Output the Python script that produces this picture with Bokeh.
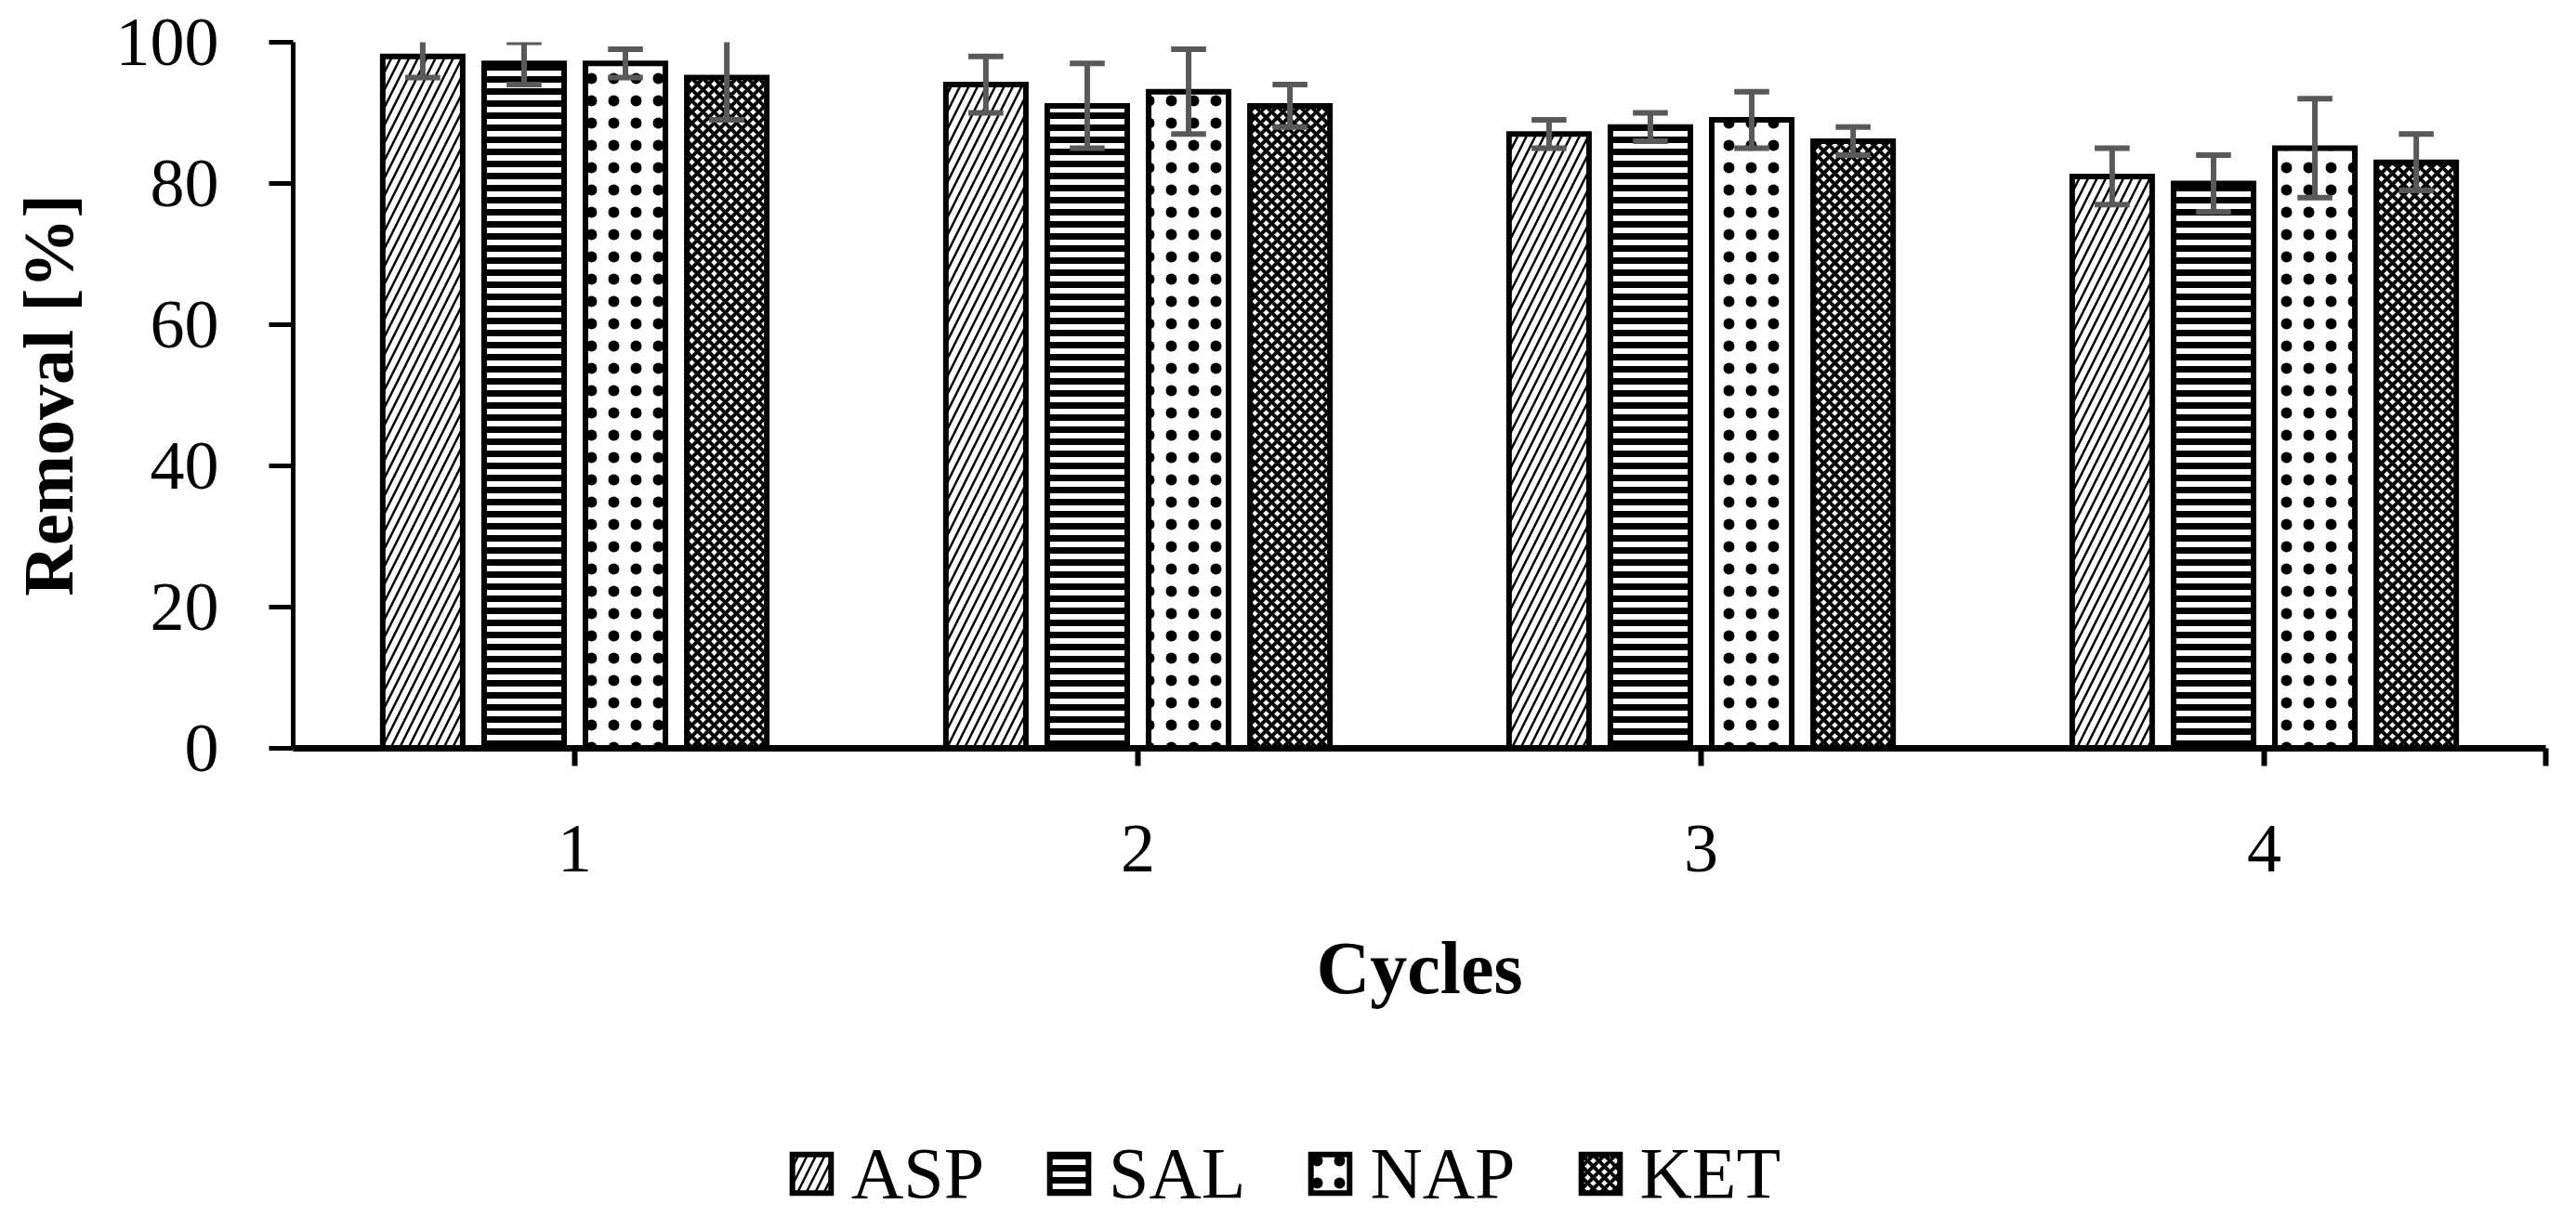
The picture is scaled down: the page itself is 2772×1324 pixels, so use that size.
from bokeh.plotting import figure
from bokeh.models import Range1d, FixedTicker, Legend, LegendItem, ColumnDataSource
from bokeh.layouts import column
from bokeh.embed import file_html
from bokeh.resources import INLINE

# ---- data ----
cycles = [1, 2, 3, 4]
series = ["ASP", "SAL", "NAP", "KET"]
asp = [98, 94, 87, 81]
sal = [97, 91, 88, 80]
nap = [97, 93, 89, 85]
ket = [95, 91, 86, 83]
asp_err = [3, 4, 2, 4]
sal_err = [3, 6, 2, 4]
nap_err = [2, 6, 4, 7]
ket_err = [6, 3, 2, 4]
y_ticks = [0, 20, 40, 60, 80, 100]
x_ticks = [1, 2, 3, 4]

values = {"ASP": asp, "SAL": sal, "NAP": nap, "KET": ket}
errors = {"ASP": asp_err, "SAL": sal_err, "NAP": nap_err, "KET": ket_err}

offsets = {"ASP": -0.27, "SAL": -0.09, "NAP": 0.09, "KET": 0.27}
hatches = {
    "ASP": dict(hatch_pattern="right_diagonal_line", hatch_scale=19, hatch_weight=2.5),
    "SAL": dict(hatch_pattern="horizontal_line", hatch_scale=13, hatch_weight=7),
    "NAP": dict(hatch_pattern="dot", hatch_scale=24, hatch_weight=3),
    "KET": dict(hatch_pattern="diagonal_cross", hatch_scale=12, hatch_weight=4),
}

FONT = "Liberation Serif"
ERR_COLOR = "#595959"
BAR_W = 0.142
CAP_HALF = 0.031
W = 2756
H_MAIN = 1160
H_LEG = 148

p = figure(
    width=W, height=H_MAIN,
    x_range=Range1d(0.5, 4.5), y_range=Range1d(0, 100),
    output_backend="svg", toolbar_location=None,
    min_border_left=315, min_border_right=17,
    min_border_top=45, min_border_bottom=H_MAIN - 805,
)
p.outline_line_color = None
p.xgrid.visible = False
p.ygrid.visible = False
p.background_fill_color = "white"
p.border_fill_color = "white"

# legend strip: its own figure so that the legend is not clipped by the plot frame;
# its bar renderers are hidden and only feed the legend glyphs.
q = figure(width=W, height=H_LEG, x_range=Range1d(5, 6), y_range=Range1d(200, 201),
           output_backend="svg", toolbar_location=None,
           x_axis_type=None, y_axis_type=None, min_border=0)
q.outline_line_color = None
q.xgrid.visible = False
q.ygrid.visible = False

items = []
for s in series:
    xs = [c + offsets[s] for c in cycles]
    v = values[s]
    e = errors[s]
    src = ColumnDataSource(dict(
        x=xs, top=v,
        lo=[a - b for a, b in zip(v, e)],
        hi=[a + b for a, b in zip(v, e)],
        xl=[x - CAP_HALF for x in xs],
        xr=[x + CAP_HALF for x in xs],
    ))
    bar_style = dict(fill_color="white", line_color="black", line_width=6,
                     line_join="miter", hatch_color="black", **hatches[s])
    p.vbar(x="x", top="top", bottom=0, width=BAR_W, source=src, **bar_style)
    p.segment(x0="x", y0="lo", x1="x", y1="hi", source=src,
              line_color=ERR_COLOR, line_width=6)
    p.segment(x0="xl", y0="lo", x1="xr", y1="lo", source=src,
              line_color=ERR_COLOR, line_width=6)
    p.segment(x0="xl", y0="hi", x1="xr", y1="hi", source=src,
              line_color=ERR_COLOR, line_width=6)
    r = q.vbar(x="x", top="top", bottom=0, width=BAR_W, source=src, **bar_style)
    r.visible = False
    items.append(LegendItem(label=s, renderers=[r]))

# x axis
p.xaxis.ticker = FixedTicker(ticks=x_ticks + [4.5])
p.xaxis.major_label_overrides = {4.5: ""}
p.xaxis.axis_line_width = 7
p.xaxis.major_tick_line_width = 6
p.xaxis.major_tick_out = 19
p.xaxis.major_tick_in = 0
p.xaxis.minor_tick_line_color = None
p.xaxis.major_label_standoff = 64
p.xaxis.major_label_text_font = FONT
p.xaxis.major_label_text_font_size = "74px"
p.xaxis.major_label_text_color = "black"
p.xaxis.axis_label = "Cycles"
p.xaxis.axis_label_text_font = FONT
p.xaxis.axis_label_text_font_style = "bold"
p.xaxis.axis_label_text_font_size = "80px"
p.xaxis.axis_label_text_color = "black"
p.xaxis.axis_label_standoff = 57

# y axis
p.yaxis.ticker = FixedTicker(ticks=y_ticks)
p.yaxis.axis_line_width = 5
p.yaxis.major_tick_line_width = 5
p.yaxis.major_tick_out = 26
p.yaxis.major_tick_in = 0
p.yaxis.minor_tick_line_color = None
p.yaxis.major_label_standoff = 54
p.yaxis.major_label_text_font = FONT
p.yaxis.major_label_text_font_size = "74px"
p.yaxis.major_label_text_color = "black"
p.yaxis.axis_label = "Removal [%]"
p.yaxis.axis_label_text_font = FONT
p.yaxis.axis_label_text_font_style = "bold"
p.yaxis.axis_label_text_font_size = "76px"
p.yaxis.axis_label_text_color = "black"
p.yaxis.axis_label_standoff = 28

legend = Legend(items=items, orientation="horizontal", location=(532, 0),
                glyph_width=52, glyph_height=52, label_height=52,
                label_standoff=17, spacing=65, padding=0, margin=0,
                border_line_color=None, background_fill_alpha=0,
                inactive_fill_alpha=0, click_policy="none",
                label_text_font=FONT, label_text_font_size="78px",
                label_text_color="black")
q.add_layout(legend, "center")

open("out.html", "w").write(file_html(column(p, q, spacing=0), INLINE))
